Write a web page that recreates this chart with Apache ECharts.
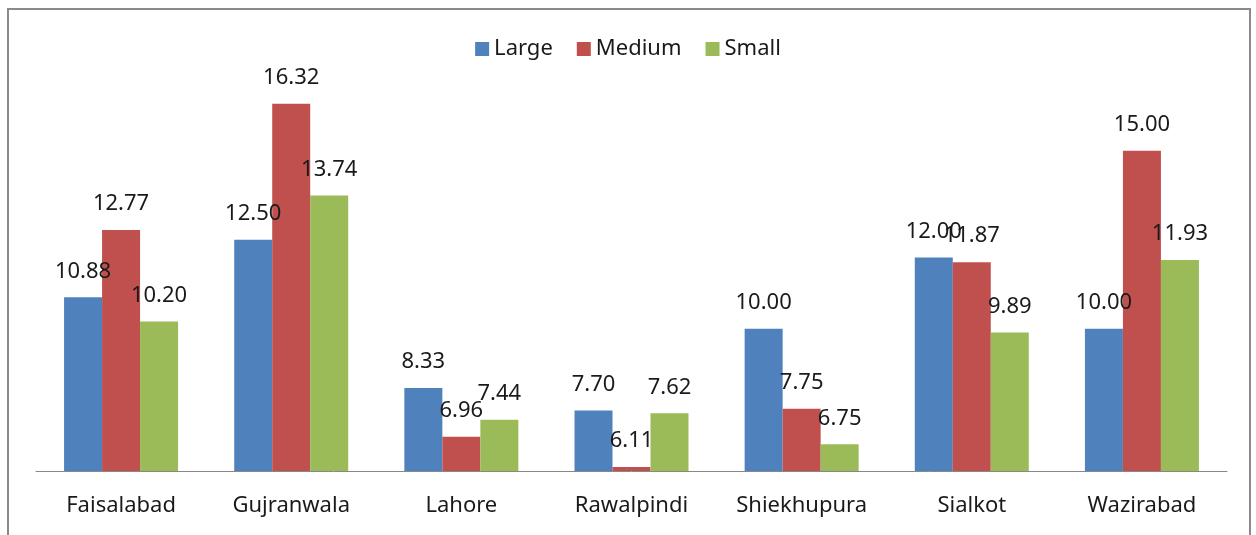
<!DOCTYPE html>
<html><head><meta charset="utf-8">
<script src="https://cdn.jsdelivr.net/npm/echarts@6/dist/echarts.min.js"></script>
<style>html,body{margin:0;padding:0;background:#fff}#c{width:1256px;height:535px}</style>
</head><body><div id="c"></div>
<script>
const categories = ["Faisalabad","Gujranwala","Lahore","Rawalpindi","Shiekhupura","Sialkot","Wazirabad"];
const large = [10.88, 12.50, 8.33, 7.70, 10.00, 12.00, 10.00];
const medium = [12.77, 16.32, 6.96, 6.11, 7.75, 11.87, 15.00];
const small = [10.20, 13.74, 7.44, 7.62, 6.75, 9.89, 11.93];
const seriesNames = ["Large","Medium","Small"];
const colors = ["#4F81BD","#C0504D","#9BBB59"];
const font = "'Noto Sans', sans-serif";
const chart = echarts.init(document.getElementById('c'));
const mk = (name, data, color) => ({
  name, type: 'bar', data, barGap: '0%', barCategoryGap: '33%',
  itemStyle: { color },
  label: { show: true, position: 'top', distance: 15, formatter: p => p.value.toFixed(2),
    fontFamily: font, fontSize: 22, color: '#1a1a1a' }
});
chart.setOption({
  animation: false,
  textStyle: { fontFamily: font },
  graphic: [{ type: 'rect', shape: { x: 8, y: 9, width: 1242, height: 600 },
    style: { fill: 'none', stroke: '#8a8a8a', lineWidth: 2 }, z: 100 }],
  legend: { top: 33, left: 'center', itemWidth: 14, itemHeight: 14, itemGap: 24,
    icon: 'rect', textStyle: { fontFamily: font, fontSize: 22, color: '#1a1a1a' } },
  grid: { left: 36, right: 29, top: 44, bottom: 64 },
  xAxis: { type: 'category', data: categories,
    axisLine: { lineStyle: { color: '#888', width: 1 } }, axisTick: { show: false },
    axisLabel: { margin: 24, fontFamily: font, fontSize: 22, color: '#1a1a1a' } },
  yAxis: { type: 'value', min: 6, max: 18, show: false, splitLine: { show: false } },
  series: [mk(seriesNames[0], large, colors[0]), mk(seriesNames[1], medium, colors[1]), mk(seriesNames[2], small, colors[2])]
});
</script></body></html>
